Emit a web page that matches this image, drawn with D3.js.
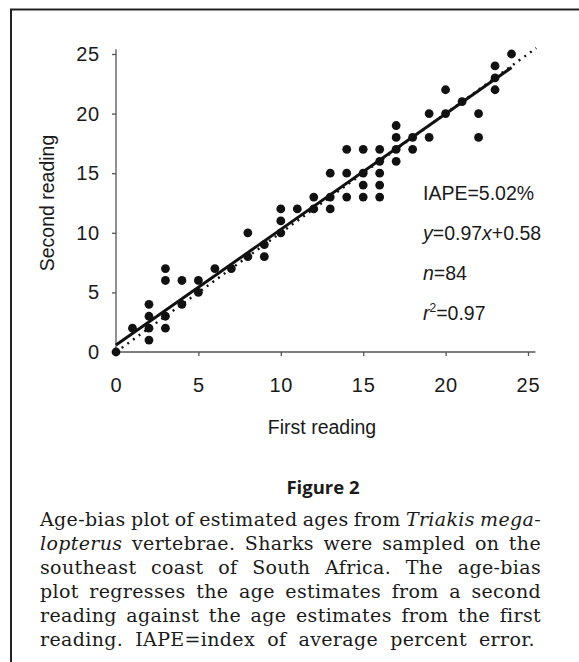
<!DOCTYPE html>
<html>
<head>
<meta charset="utf-8">
<script src="https://cdn.jsdelivr.net/npm/d3@7"></script>
<style>
  body { margin: 0; background: #fff; }
  svg text { fill: #1a1a1a; }
</style>
</head>
<body>
<div id="svganchor"></div>
<script>
let width = 579;
let height = 662;

// age pairs: first reading (x) against second reading (y)
let firstReading = [
  0, 1, 2, 2, 2, 2, 3, 3, 3, 3, 4, 4, 5, 5, 6, 7, 8, 8, 9, 9,
  10, 10, 10, 11, 12, 12, 13, 13, 13, 14, 14, 14, 15, 15, 15, 15,
  16, 16, 16, 16, 16, 17, 17, 17, 17, 18, 18, 19, 19, 20, 20, 21,
  22, 22, 23, 23, 23, 24
];
let secondReading = [
  0, 2, 1, 2, 3, 4, 2, 3, 6, 7, 4, 6, 5, 6, 7, 7, 8, 10, 8, 9,
  10, 11, 12, 12, 12, 13, 12, 13, 15, 13, 15, 17, 13, 14, 15, 17,
  13, 14, 15, 16, 17, 16, 17, 18, 19, 17, 18, 18, 20, 20, 22, 21,
  18, 20, 22, 23, 24, 25
];
let xTicks = [0, 5, 10, 15, 20, 25];
let yTicks = [0, 5, 10, 15, 20, 25];

// regression y = 0.97x + 0.58 and the 1:1 reference line
let fitSlope = 0.97;
let fitIntercept = 0.58;
let fitRange = [0, 24];
let equalRange = [0, 25.5];

let statLines = [
  [{ t: "IAPE=5.02%" }],
  [{ t: "y", i: true }, { t: "=0.97" }, { t: "x", i: true }, { t: "+0.58" }],
  [{ t: "n", i: true }, { t: "=84" }],
  [{ t: "r", i: true }, { t: "2", sup: true }, { t: "=0.97", after: true }]
];

let figureTitle = "Figure 2";
// words wrapped in _ _ are set in italics
let captionLines = [
  "Age-bias plot of estimated ages from _Triakis_ _mega-_",
  "_lopterus_ vertebrae. Sharks were sampled on the",
  "southeast coast of South Africa. The age-bias",
  "plot regresses the age estimates from a second",
  "reading against the age estimates from the first",
  "reading. IAPE=index of average percent error."
];

let svg = d3.select("#svganchor").append("svg")
  .attr("width", width)
  .attr("height", height);

// frame (top and left edges only)
svg.append("path")
  .attr("d", "M11," + height + "V9.5H" + width)
  .attr("fill", "none")
  .attr("stroke", "#222")
  .attr("stroke-width", 2);

let xScale = d3.scaleLinear().domain([0, 25]).range([116, 528]);
let yScale = d3.scaleLinear().domain([0, 25]).range([352, 54]);

let chartFont = "'Liberation Sans', Arial, sans-serif";

// axes
let xAxis = d3.axisBottom(xScale).tickValues(xTicks).tickSize(4).tickSizeOuter(0).tickPadding(22);
let yAxis = d3.axisLeft(yScale).tickValues(yTicks).tickSize(4).tickSizeOuter(0).tickPadding(12);

let gx = svg.append("g")
  .attr("transform", "translate(0," + yScale(0) + ")")
  .call(xAxis);
let gy = svg.append("g")
  .attr("transform", "translate(" + xScale(0) + ",0)")
  .call(yAxis);

[gx, gy].forEach(function (g) {
  g.select(".domain").remove();
  g.selectAll(".tick line").attr("stroke", "#555").attr("stroke-width", 1.3);
  g.selectAll(".tick text")
    .attr("font-family", chartFont)
    .attr("font-size", 20)
    .attr("letter-spacing", 0.8)
    .attr("fill", "#1a1a1a");
});

// axis lines run a little past the last tick
svg.append("line")
  .attr("x1", xScale(0)).attr("x2", xScale(25.45))
  .attr("y1", yScale(0)).attr("y2", yScale(0))
  .attr("stroke", "#555").attr("stroke-width", 1.3);
svg.append("line")
  .attr("x1", xScale(0)).attr("x2", xScale(0))
  .attr("y1", yScale(0)).attr("y2", yScale(25.4))
  .attr("stroke", "#555").attr("stroke-width", 1.3);

// axis titles
svg.append("text")
  .attr("x", (xScale(0) + xScale(25)) / 2)
  .attr("y", 434)
  .attr("text-anchor", "middle")
  .attr("font-family", chartFont)
  .attr("font-size", 19.5)
  .text("First reading");

svg.append("text")
  .attr("transform", "translate(54," + ((yScale(0) + yScale(25)) / 2) + ") rotate(-90)")
  .attr("text-anchor", "middle")
  .attr("font-family", chartFont)
  .attr("font-size", 19.5)
  .text("Second reading");

// 1:1 line (dotted)
let line = d3.line()
  .x(function (d) { return xScale(d[0]); })
  .y(function (d) { return yScale(d[1]); });

svg.append("path")
  .datum(equalRange.map(function (v) { return [v, v]; }))
  .attr("d", line)
  .attr("fill", "none")
  .attr("stroke", "#111")
  .attr("stroke-width", 2.4)
  .attr("stroke-dasharray", "2,5");

// regression line
svg.append("path")
  .datum(fitRange.map(function (v) { return [v, fitSlope * v + fitIntercept]; }))
  .attr("d", line)
  .attr("fill", "none")
  .attr("stroke", "#111")
  .attr("stroke-width", 3);

// points
svg.selectAll(".pt")
  .data(firstReading.map(function (v, i) { return [v, secondReading[i]]; }))
  .enter()
  .append("circle")
  .attr("class", "pt")
  .attr("cx", function (d) { return xScale(d[0]); })
  .attr("cy", function (d) { return yScale(d[1]); })
  .attr("r", 4.4)
  .attr("fill", "#111");

// stats block
statLines.forEach(function (parts, k) {
  let t = svg.append("text")
    .attr("x", 423)
    .attr("y", 200 + k * 40)
    .attr("font-family", chartFont)
    .attr("font-size", 19.5);
  parts.forEach(function (p) {
    let s = t.append("tspan").text(p.t);
    if (p.i) s.attr("font-style", "italic");
    if (p.sup) s.attr("font-size", 12).attr("dy", -8);
    if (p.after) s.attr("dy", 8);
  });
});

// caption
svg.append("text")
  .attr("x", 323)
  .attr("y", 494)
  .attr("text-anchor", "middle")
  .attr("font-family", "'Open Sans', 'DejaVu Sans', sans-serif")
  .attr("font-weight", "bold")
  .attr("font-size", 18.5)
  .text(figureTitle);

let capLeft = 40;
let capRight = 541;
let capFont = "'DejaVu Serif', 'Liberation Serif', serif";
let capSize = 19;

captionLines.forEach(function (str, k) {
  let y = 526 + k * 24;
  let words = str.split(" ").map(function (w) {
    let it = /^_.*_$/.test(w);
    return { t: it ? w.slice(1, -1) : w, i: it };
  });
  let nodes = words.map(function (w) {
    return svg.append("text")
      .attr("y", y)
      .attr("font-family", capFont)
      .attr("font-size", capSize)
      .attr("letter-spacing", 0.35)
      .attr("font-style", w.i ? "italic" : "normal")
      .text(w.t);
  });
  let widths = nodes.map(function (n) { return n.node().getComputedTextLength(); });
  let total = d3.sum(widths);
  // last line is set ragged, ending a little short of the margin
  let right = (k < captionLines.length - 1) ? capRight : capRight - 6;
  let gap = (right - capLeft - total) / (words.length - 1);
  let x = capLeft;
  nodes.forEach(function (n, j) {
    n.attr("x", x);
    x += widths[j] + gap;
  });
});
</script>
</body>
</html>
